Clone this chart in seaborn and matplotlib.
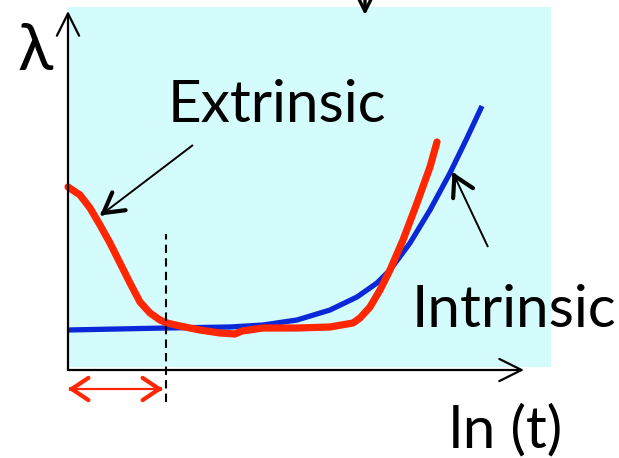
import matplotlib
matplotlib.use("Agg")
import matplotlib.pyplot as plt
import seaborn as sns
import pandas as pd
from matplotlib.patches import FancyArrowPatch, Rectangle

# =========================
# DADOS (unidades do diagrama: origem no cruzamento dos eixos)
# =========================
ln_t_intrinsic = [0, 98, 162, 195, 229, 262, 289, 309, 322, 342, 362, 382, 399, 414]
lam_intrinsic = [40, 42, 43, 45, 50, 60, 73, 87, 100, 127, 160, 197, 232, 264]

ln_t_extrinsic = [0, 12, 22, 32, 42, 52, 62, 72, 82, 92, 99, 112, 132, 152, 167, 174,
                  195, 229, 262, 285, 292, 302, 312, 322, 335, 349, 362, 369]
lam_extrinsic = [183, 175, 162, 145, 127, 107, 87, 68, 57, 50, 47, 44, 40, 37, 36, 39,
                 42, 42, 43, 47, 52, 63, 80, 100, 130, 167, 203, 228]

t_limit = 98          # fim da região extrínseca (linha tracejada)
labels = {"y": "λ", "x": "ln (t)", "ext": "Extrinsic", "int": "Intrinsic"}

RED = "#FF2600"
BLUE = "#0A28D8"
CYAN = "#D5FCFC"


def arrow(ax, p0, p1, style, lw, hl=0, hw=0, color="black"):
    if style == "-":
        ax.plot([p0[0], p1[0]], [p0[1], p1[1]], color=color, lw=lw, solid_capstyle="butt", zorder=5)
        return
    ax.add_patch(FancyArrowPatch(p0, p1, arrowstyle=f"{style},head_length={hl},head_width={hw}",
                                 color=color, lw=lw, mutation_scale=1, shrinkA=0, shrinkB=0,
                                 capstyle="round", joinstyle="round", zorder=5))


def main():
    sns.set_style("white")
    plt.rcParams["font.family"] = ["Lato", "DejaVu Sans"]
    plt.rcParams["text.color"] = "black"

    fig = plt.figure(figsize=(6.19, 4.58), dpi=100)
    ax = fig.add_axes([0, 0, 1, 1])
    ax.axis("off")

    # fundo ciano
    ax.add_patch(Rectangle((0, 3), 483, 360, color=CYAN, zorder=0, lw=0))

    # eixos
    arrow(ax, (0, 0), (0, 359), "->", 1.6, 16, 8)
    arrow(ax, (0, 0), (456, 0), "->", 1.6, 16, 8)
    arrow(ax, (297, 380), (297, 355), "->", 2.4, 14, 7)

    # curvas
    df_int = pd.DataFrame({"x": ln_t_intrinsic, "y": lam_intrinsic})
    df_ext = pd.DataFrame({"x": ln_t_extrinsic, "y": lam_extrinsic})
    sns.lineplot(data=df_int, x="x", y="y", sort=False, color=BLUE, lw=3.8,
                 solid_capstyle="butt", solid_joinstyle="round", ax=ax, zorder=3)
    sns.lineplot(data=df_ext, x="x", y="y", sort=False, color=RED, lw=5.2,
                 solid_capstyle="round", solid_joinstyle="round", ax=ax, zorder=4)
    ax.set_xlim(-68, 551)
    ax.set_ylim(-88, 370)

    # linha tracejada e seta dupla
    ax.plot([t_limit, t_limit], [-32, 136], color="black", lw=1.5, ls=(0, (4, 2.5)), zorder=5)
    arrow(ax, (2, -19), (93, -19), "-", 1.6, color=RED)
    arrow(ax, (4, -19), (0, -19), "->", 3.0, 12, 8, color=RED)
    arrow(ax, (91, -19), (95, -19), "->", 3.0, 12, 8, color=RED)

    # setas indicadoras
    arrow(ax, (125, 225), (33, 155), "-", 1.4)
    arrow(ax, (36, 157.5), (32, 154.5), "->", 3.0, 14, 8)
    arrow(ax, (420, 123), (385, 197), "-", 1.4)
    arrow(ax, (386.5, 194), (384.5, 198), "->", 3.0, 14, 8)

    # textos
    ax.text(-33, 318, labels["y"], fontsize=47, ha="center", va="center", color="black")
    ax.text(100, 248, labels["ext"], fontsize=42, ha="left", va="baseline", color="black")
    ax.text(344, 43, labels["int"], fontsize=42, ha="left", va="baseline", color="black")
    ax.text(381, -77, labels["x"], fontsize=42, ha="left", va="baseline", color="black")

    ax.set_xlabel("")
    ax.set_ylabel("")
    plt.savefig("out.png", dpi=100)
    plt.close()


if __name__ == "__main__":
    main()
